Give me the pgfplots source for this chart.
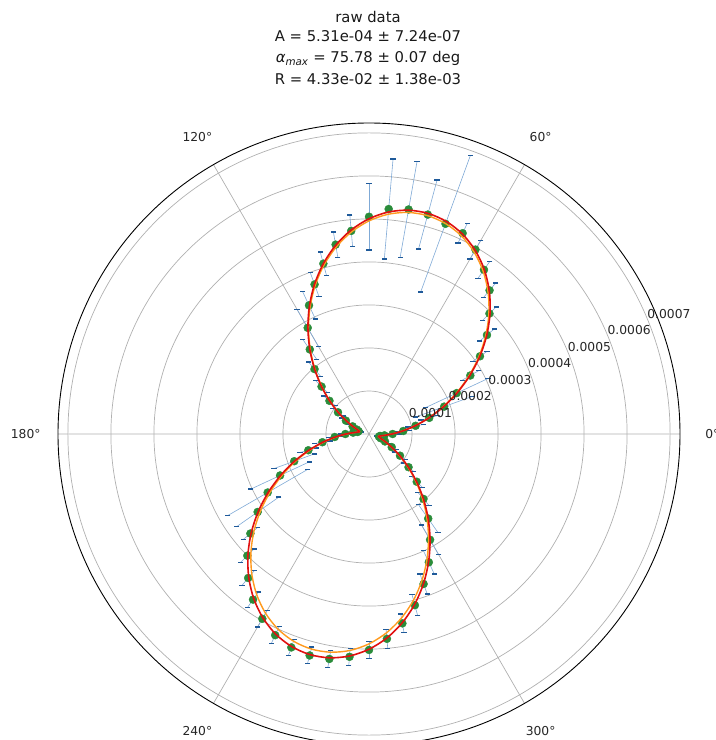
\documentclass[border=0pt]{standalone}
\usepackage{fontspec}
\setmainfont{DejaVu Sans}
\usepackage{pgfplots}
\usepackage{pgfplotstable}
\pgfplotsset{compat=1.18}
\usepgfplotslibrary{polar}
\definecolor{gridgray}{HTML}{B0B0B0}
\definecolor{ebline}{HTML}{7FA9D6}
\definecolor{capblue}{HTML}{1F5A9A}
\definecolor{ptgreen}{HTML}{2A8C3A}
\definecolor{fitred}{HTML}{E01010}
\definecolor{fitorange}{HTML}{FF9A1E}

% measured points (units of 1e-4)
\pgfplotstableread{
th r
0 0.55
5 0.80
10 1.10
15 1.45
20 1.86
25 2.25
30 2.72
35 3.15
40 3.58
45 3.96
50 4.36
55 4.66
60 4.95
65 5.15
70 5.20
75 5.28
80 5.30
85 5.25
90 5.05
95 4.74
100 4.47
105 4.10
110 3.70
115 3.30
120 2.85
125 2.40
130 1.97
135 1.56
140 1.20
145 0.88
150 0.62
155 0.42
160 0.30
165 0.25
170 0.27
175 0.37
180 0.55
185 0.80
190 1.10
195 1.46
200 1.85
205 2.28
210 2.72
215 3.16
220 3.60
225 4.00
230 4.37
235 4.70
240 4.96
245 5.16
250 5.28
255 5.33
260 5.31
265 5.20
270 5.02
275 4.78
280 4.47
285 4.12
290 3.71
295 3.29
300 2.84
305 2.40
310 1.97
315 1.57
320 1.20
325 0.88
330 0.61
335 0.41
340 0.29
345 0.24
350 0.26
355 0.36
}\data

% error bar ends: th lo hi
\pgfplotstableread{
th lo hi
0 0.40 0.70
5 0.65 0.95
10 0.92 1.28
15 1.25 1.65
20 1.16 2.56
25 1.45 3.05
30 2.50 2.94
35 2.95 3.35
40 3.36 3.80
45 3.74 4.18
50 4.14 4.58
55 4.42 4.90
60 4.70 5.20
65 4.90 5.40
70 3.51 6.89
75 4.45 6.11
80 4.17 6.43
85 4.08 6.42
90 4.28 5.82
95 4.37 5.11
100 4.17 4.77
105 3.82 4.38
110 3.40 4.00
115 2.95 3.65
120 2.35 3.35
125 2.12 2.68
130 1.75 2.19
135 1.36 1.76
140 1.02 1.38
145 0.73 1.03
150 0.50 0.74
155 0.32 0.52
160 0.22 0.38
165 0.19 0.31
170 0.19 0.35
175 0.27 0.47
180 0.43 0.67
185 0.65 0.95
190 0.92 1.28
195 1.26 1.66
200 1.35 2.35
205 1.53 3.03
210 1.65 3.79
215 2.56 3.76
220 3.38 3.82
225 3.78 4.22
230 4.15 4.59
235 4.48 4.92
240 4.74 5.18
245 4.94 5.38
250 5.08 5.48
255 5.13 5.53
260 5.11 5.51
265 5.00 5.40
270 4.82 5.22
275 4.56 5.00
280 4.25 4.69
285 3.87 4.37
290 3.46 3.96
295 2.99 3.59
300 2.44 3.24
305 2.00 2.80
310 1.77 2.17
315 1.39 1.75
320 1.05 1.35
325 0.73 1.03
330 0.49 0.73
335 0.31 0.51
340 0.21 0.37
345 0.18 0.30
350 0.18 0.34
355 0.26 0.46
}\errs

\pgfplotstableread{
th r
0 0.536
5 0.781
10 1.085
15 1.441
20 1.837
25 2.260
30 2.699
35 3.143
40 3.574
45 3.980
50 4.349
55 4.671
60 4.934
65 5.133
70 5.258
75 5.309
80 5.283
85 5.180
90 5.004
95 4.760
100 4.455
105 4.100
110 3.703
115 3.278
120 2.839
125 2.398
130 1.968
135 1.561
140 1.191
145 0.870
150 0.605
155 0.408
160 0.281
162.5 0.247
165 0.231
167.5 0.235
170 0.257
175 0.361
180 0.536
185 0.781
190 1.085
195 1.441
200 1.837
205 2.260
210 2.699
215 3.143
220 3.574
225 3.980
230 4.349
235 4.671
240 4.934
245 5.133
250 5.258
255 5.309
260 5.283
265 5.180
270 5.004
275 4.760
280 4.455
285 4.100
290 3.703
295 3.278
300 2.839
305 2.398
310 1.968
315 1.561
320 1.191
325 0.870
330 0.605
335 0.408
340 0.281
342.5 0.247
345 0.231
347.5 0.235
350 0.257
355 0.361
360 0.536
}\fitred

\pgfplotstableread{
th r
0 0.531
5 0.773
10 1.074
15 1.427
20 1.819
25 2.237
30 2.672
35 3.112
40 3.538
45 3.940
50 4.306
55 4.624
60 4.885
65 5.082
70 5.205
75 5.256
80 5.230
85 5.128
90 4.954
95 4.712
100 4.410
105 4.059
110 3.666
115 3.245
120 2.811
125 2.374
130 1.948
135 1.545
140 1.179
145 0.861
150 0.599
155 0.404
160 0.278
162.5 0.245
165 0.229
167.5 0.233
170 0.255
175 0.358
180 0.523
185 0.761
190 1.058
195 1.405
200 1.791
205 2.204
210 2.632
215 3.064
220 3.485
225 3.881
230 4.240
235 4.554
240 4.811
245 5.005
250 5.127
255 5.176
260 5.151
265 5.051
270 4.879
275 4.641
280 4.344
285 3.998
290 3.610
295 3.196
300 2.768
305 2.338
310 1.919
315 1.522
320 1.161
325 0.848
330 0.590
335 0.398
340 0.274
342.5 0.247
345 0.231
347.5 0.235
350 0.257
355 0.361
360 0.531
}\fitorange

\begin{document}
\begin{tikzpicture}
\begin{polaraxis}[
  scale only axis, width=622bp, height=622bp,
  xmin=0, xmax=360, ymin=0, ymax=7.23,
  xtick={0,60,...,300}, ytick={1,2,...,7},
  xticklabel=\empty, yticklabel=\empty,
  xmajorgrids, ymajorgrids,
  major grid style={color=gridgray, line width=0.7bp},
  x axis line style={black, line width=0.9bp},
  y axis line style={draw=none},
  major tick length=0pt,
  clip mode=individual,
]
\coordinate (c) at (axis cs:0,0);
% error bars: one radial segment per point, caps as horizontal dashes
\pgfplotsinvokeforeach{0,...,71}{
  \pgfplotstablegetelem{#1}{th}\of\errs \let\eth\pgfplotsretval
  \pgfplotstablegetelem{#1}{lo}\of\errs \let\elo\pgfplotsretval
  \pgfplotstablegetelem{#1}{hi}\of\errs \let\ehi\pgfplotsretval
  \edef\tmp{\noexpand\addplot[color=ebline, line width=0.6bp, forget plot, mark=-, mark size=2.6bp, mark options={color=capblue, line width=1.4bp}] coordinates {(\eth,\elo) (\eth,\ehi)};}
  \tmp
}
\addplot[only marks, mark=*, mark size=4bp, color=ptgreen, mark options={fill=ptgreen, draw=ptgreen}] table[x=th, y=r] {\data};
\addplot[fitorange, line width=1.4bp, smooth, mark=none] table[x=th, y=r] {\fitorange};
\addplot[fitred, line width=1.6bp, smooth, mark=none] table[x=th, y=r] {\fitred};
\foreach \k in {1,...,7} {
  \edef\tmp{\noexpand\node[anchor=south west, inner sep=0pt, font=\noexpand\fontsize{12.3bp}{14bp}\noexpand\selectfont, text=black!85] at (axis cs:22.5,\k) {0.000\k};}
  \tmp
}
\foreach \a in {0,60,120,180,240,300} {
  \edef\tmp{\noexpand\node[anchor=center, inner sep=0pt, font=\noexpand\fontsize{12.3bp}{14bp}\noexpand\selectfont, text=black!85] at (axis cs:\a,7.98) {\a°};}
  \tmp
}
\end{polaraxis}
\begin{scope}[shift={(c)}, every node/.style={font=\fontsize{14.8bp}{17bp}\selectfont, text=black!90, anchor=base, inner sep=0pt}]
\node at (-1bp,411bp) {raw data};
\node at (-1bp,392bp) {A = 5.31e-04 ± 7.24e-07};
\node at (-1bp,371bp) {\textit{α}\textsubscript{\textit{max}} = 75.78 ± 0.07 deg};
\node at (-1bp,349bp) {R = 4.33e-02 ± 1.38e-03};
\end{scope}
\pgfresetboundingbox
\path (c) ++(-369bp,-306bp) rectangle ++(716bp,740bp);
\end{tikzpicture}
\end{document}
